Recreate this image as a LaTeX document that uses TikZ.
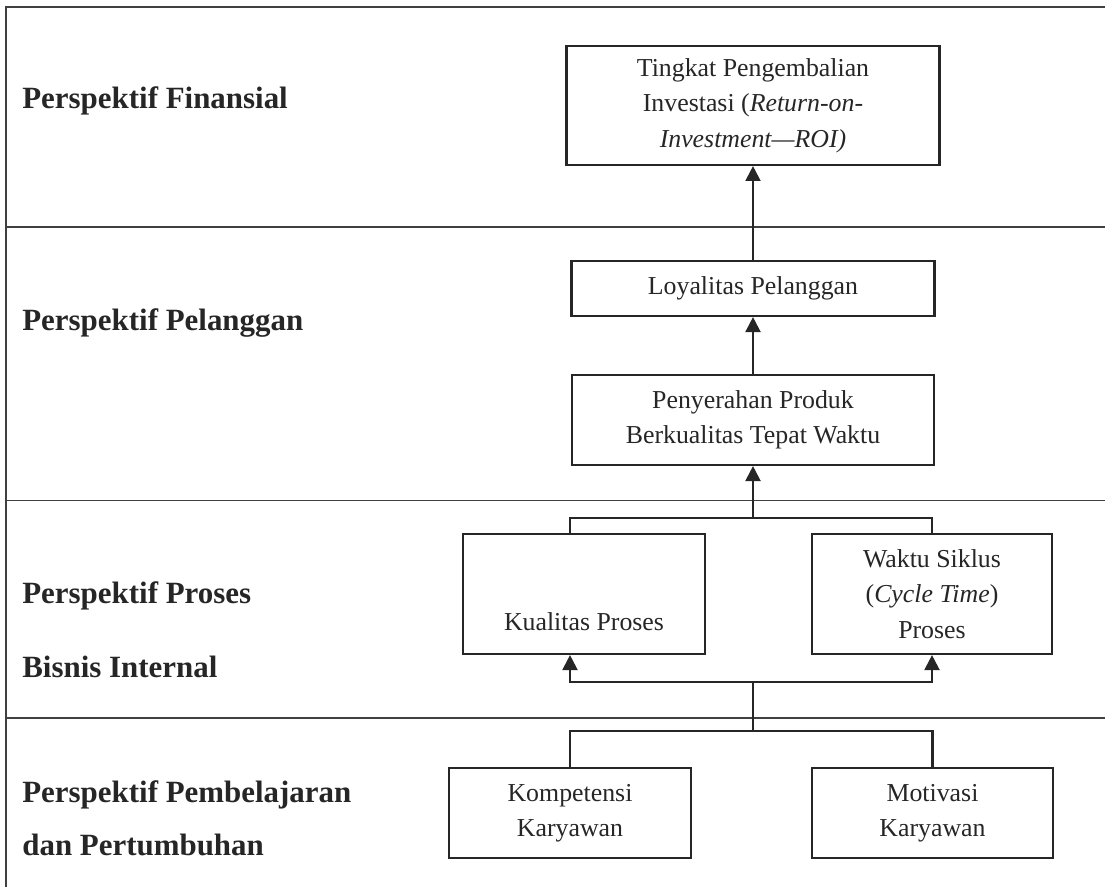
\documentclass[tikz,border=0pt]{standalone}
\usepackage{fontspec}
\setmainfont{Liberation Serif}
\usetikzlibrary{arrows.meta,positioning,calc}

\begin{document}
\begin{tikzpicture}[
    txt/.style={text=black!85, font=\fontsize{14.7}{20.2}\selectfont},
    sect/.style={anchor=base west, inner sep=0pt, text=black!85, font=\fontsize{17.6}{21}\selectfont\bfseries},
    blk/.style={txt, draw=black!85, line width=1.2pt, align=center, inner sep=2pt},
    conn/.style={-{Triangle[width=8.5pt,length=8.5pt]}, line width=1.2pt, draw=black!85},
    link/.style={line width=1.2pt, draw=black!85},
    sep/.style={line width=1pt, draw=black!75}
]
\useasboundingbox (0,0) rectangle (22.1,-17.74);

% --- Frame and row separators ---
\draw[sep] (22.1,-0.14) -- (0.12,-0.14) -- (0.12,-17.74);
\foreach \y in {-4.54,-10.01,-14.36}
  \draw[sep] (0.12,\y) -- (22.1,\y);

% --- Row labels ---
\node[sect] (finansial) at (0.44,-2.16) {Perspektif Finansial};
\node[sect] (pelanggan) at (0.44,-6.6) {Perspektif Pelanggan};
\node[sect] (proses1)   at (0.44,-12.06) {Perspektif Proses};
\node[sect] (proses2)   at (0.44,-13.54) {Bisnis Internal};
\node[sect] (belajar1)  at (0.44,-16.04) {Perspektif Pembelajaran};
\node[sect] (belajar2)  at (0.44,-17.1) {dan Pertumbuhan};

% --- Boxes ---
\node[blk, minimum width=7.46cm, minimum height=2.38cm] (roi) at (15.06,-2.11)
  {Tingkat Pengembalian\\Investasi (\textit{Return-on-}\\\textit{Investment---ROI)}};
\node[blk, minimum width=7.26cm, minimum height=1.1cm] (loyal) at (15.06,-5.77) {Loyalitas Pelanggan};
\node[blk, minimum width=7.24cm, minimum height=1.8cm] (serah) at (15.06,-8.4)
  {Penyerahan Produk\\Berkualitas Tepat Waktu};
\node[blk, minimum width=4.84cm, minimum height=2.4cm,
  label={[txt, anchor=base, yshift=0.5cm]south:Kualitas Proses}] (kualitas) at (11.68,-11.88) {};
\node[blk, minimum width=4.8cm, minimum height=2.4cm] (waktu) at (18.64,-11.88)
  {Waktu Siklus\\(\textit{Cycle Time})\\Proses};
\node[blk, minimum width=4.84cm, minimum height=1.8cm] (kompetensi) at (11.4,-16.26) {Kompetensi\\Karyawan};
\node[blk, minimum width=4.82cm, minimum height=1.8cm] (motivasi) at (18.65,-16.26) {Motivasi\\Karyawan};

% --- Junction points ---
\coordinate (jproc) at ([yshift=-1.04cm]serah.south);
\coordinate (jmid)  at (serah.south |- 0,-13.64);
\coordinate (jlow)  at (serah.south |- 0,-14.62);

% --- Connectors ---
\draw[conn] (loyal.north) -- (roi.south);
\draw[conn] (serah.north) -- (loyal.south);
\draw[link] (kompetensi.north |- kualitas.north) |- (jproc) -| (waktu.north);
\draw[conn] (jproc) -- (serah.south);
\draw[link] (kompetensi.north) |- (jlow) -| (motivasi.north);
\draw[link] (jlow) -- (jmid);
\draw[conn] (jmid) -| (kompetensi.north |- kualitas.south);
\draw[conn] (jmid) -| (waktu.south);
\end{tikzpicture}
\end{document}
